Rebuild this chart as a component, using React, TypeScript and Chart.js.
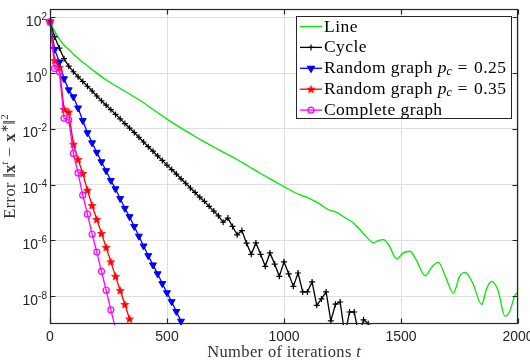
import React, { useEffect, useRef } from 'react';
import { Chart, registerables } from 'chart.js';

Chart.register(...registerables);

// Iterations between stored samples of the graph-based runs
const SAMPLE_STEP = 20;

const xTickValues = [0, 500, 1000, 1500, 2000];
const yTickExponents = [2, 0, -2, -4, -6, -8];

// Line topology: iteration and log10 of the error
const lineIters = [0, 20, 40, 60, 80, 100, 150, 200, 250, 300, 350, 400, 450, 500, 550, 600, 650, 700, 750, 800, 850, 900, 950, 1000, 1050, 1080, 1110, 1150, 1190, 1220, 1260, 1300, 1325, 1355, 1382, 1405, 1425, 1450, 1481, 1510, 1538, 1565, 1603, 1635, 1660, 1690, 1724, 1750, 1774, 1805, 1845, 1865, 1887, 1915, 1944, 1963, 1987, 2000];
const lineLogErr = [1.84, 1.5, 1.22, 1.0, 0.85, 0.68, 0.33, 0.0, -0.3, -0.55, -0.8, -1.06, -1.36, -1.65, -1.92, -2.17, -2.42, -2.65, -2.88, -3.1, -3.35, -3.6, -3.84, -4.07, -4.3, -4.4, -4.5, -4.68, -4.9, -4.98, -5.18, -5.4, -5.62, -5.9, -6.09, -6.0, -5.97, -6.2, -6.67, -6.45, -6.39, -6.7, -7.27, -6.92, -6.79, -7.3, -7.89, -7.3, -7.15, -7.5, -8.3, -7.75, -7.47, -7.8, -8.72, -8.58, -7.98, -7.86];

// Remaining topologies: log10 of the error every SAMPLE_STEP iterations
const cycleLogErr = [
  1.84, 1.3, 0.9, 0.52, 0.25, 0.05, -0.13, -0.3, -0.47, -0.64,
  -0.82, -0.99, -1.15, -1.31, -1.48, -1.64, -1.81, -1.97, -2.13, -2.3,
  -2.47, -2.64, -2.8, -2.97, -3.13, -3.3, -3.46, -3.62, -3.79, -3.95,
  -4.12, -4.28, -4.45, -4.6, -4.78, -4.95, -5.12, -5.35, -5.2, -5.5,
  -5.8, -5.65, -6.1, -6.5, -6.09, -6.5, -6.93, -6.45, -6.85, -7.29,
  -6.77, -7.2, -7.65, -7.17, -7.85, -7.85, -7.49, -8.33, -8.1, -7.85,
  -8.89, -8.29, -8.21, -9.4, -8.57, -8.57, -9.4, -8.85, -8.99, -9.4,
];
const random25LogErr = [1.84, 0.85, 0.4, -0.2, -0.6, -0.85, -1.25, -1.7, -2.14, -2.5, -2.84, -3.18, -3.5, -3.85, -4.15, -4.5, -4.85, -5.15, -5.5, -5.85, -6.2, -6.55, -6.88, -7.2, -7.55, -7.88, -8.2, -8.55, -8.9];
const random35LogErr = [1.84, 0.45, 0.2, -1.3, -1.4, -2.55, -3.1, -3.6, -4.2, -4.75, -5.25, -5.75, -6.25, -6.77, -7.29, -7.8, -8.3, -8.82];
const completeLogErr = [1.84, 0.17, 0.05, -1.62, -1.68, -2.88, -3.58, -4.38, -5.06, -5.78, -6.42, -7.11, -7.79, -8.49, -9.17];

const SERIF = '"Liberation Serif", "Times New Roman", serif';
const SANS = '"Liberation Sans", Arial, Helvetica, sans-serif';
const AXIS = '#262626';
const GRID = '#dfdfdf';

const GREEN = '#00e800';
const BLACK = '#000000';
const BLUE = '#0000ff';
const RED = '#ff0000';
const MAGENTA = '#ff00ff';

type Run = { text: string; font: string; dy?: number; ls?: number };

function runsWidth(ctx: CanvasRenderingContext2D, runs: Run[]) {
  let w = 0;
  for (const r of runs) {
    ctx.font = r.font;
    (ctx as any).letterSpacing = `${r.ls || 0}px`;
    w += ctx.measureText(r.text).width;
  }
  (ctx as any).letterSpacing = '0px';
  return w;
}

function drawRuns(ctx: CanvasRenderingContext2D, runs: Run[], x: number, y: number) {
  let cx = x;
  for (const r of runs) {
    ctx.font = r.font;
    (ctx as any).letterSpacing = `${r.ls || 0}px`;
    ctx.fillText(r.text, cx, y + (r.dy || 0));
    cx += ctx.measureText(r.text).width;
  }
  (ctx as any).letterSpacing = '0px';
}

function makeStar(color: string, r: number) {
  const size = Math.ceil(r * 2 + 2);
  const c = document.createElement('canvas');
  c.width = size;
  c.height = size;
  const ctx = c.getContext('2d')!;
  ctx.translate(size / 2, size / 2 + 0.3);
  ctx.beginPath();
  for (let i = 0; i < 10; i++) {
    const rad = i % 2 === 0 ? r : r * 0.42;
    const a = -Math.PI / 2 + (i * Math.PI) / 5;
    ctx.lineTo(rad * Math.cos(a), rad * Math.sin(a));
  }
  ctx.closePath();
  ctx.fillStyle = color;
  ctx.fill();
  ctx.strokeStyle = color;
  ctx.lineWidth = 0.8;
  ctx.stroke();
  return c;
}

function drawMarker(ctx: CanvasRenderingContext2D, kind: string, x: number, y: number, color: string, star?: HTMLCanvasElement) {
  ctx.save();
  ctx.strokeStyle = color;
  ctx.fillStyle = color;
  ctx.lineWidth = 1.2;
  ctx.beginPath();
  if (kind === 'cross') {
    ctx.moveTo(x - 3, y);
    ctx.lineTo(x + 3, y);
    ctx.moveTo(x, y - 3);
    ctx.lineTo(x, y + 3);
    ctx.stroke();
  } else if (kind === 'triDown') {
    const r = 4;
    for (let k = 0; k < 3; k++) {
      const a = Math.PI + (k * 2 * Math.PI) / 3;
      const px = x + Math.sin(a) * r;
      const py = y - Math.cos(a) * r;
      if (k === 0) ctx.moveTo(px, py);
      else ctx.lineTo(px, py);
    }
    ctx.closePath();
    ctx.fill();
    ctx.stroke();
  } else if (kind === 'star' && star) {
    ctx.drawImage(star, x - star.width / 2, y - star.height / 2);
  } else if (kind === 'circle') {
    ctx.arc(x, y, 3, 0, Math.PI * 2);
    ctx.stroke();
  }
  ctx.restore();
}

function expLabel(e: number) {
  return e < 0 ? '-' + String(-e) : String(e);
}

export default function App() {
  const canvasRef = useRef<HTMLCanvasElement | null>(null);

  useEffect(() => {
    const canvas = canvasRef.current;
    if (!canvas) return;

    const star = makeStar(RED, 4.1);
    const sampled = (logs: number[]) => logs.map((e, i) => ({ x: i * SAMPLE_STEP, y: Math.pow(10, e) }));
    const lineData = lineLogErr.map((e, i) => ({ x: lineIters[i], y: Math.pow(10, e) }));

    const LF = `17.5px ${SERIF}`;
    const LS = 0.45;
    const graphRuns = (pc: string): Run[] => [
      { text: 'Random graph ', font: LF, ls: LS },
      { text: 'p', font: `italic 17.5px ${SERIF}` },
      { text: 'c', font: `italic 12px ${SERIF}`, dy: 3.5 },
      { text: ' = ', font: LF, ls: 1.2 },
      { text: pc, font: LF, ls: LS },
    ];
    const legendItems = [
      { color: GREEN, marker: 'none', runs: [{ text: 'Line', font: LF, ls: LS }] as Run[] },
      { color: BLACK, marker: 'cross', runs: [{ text: 'Cycle', font: LF, ls: LS }] as Run[] },
      { color: BLUE, marker: 'triDown', runs: graphRuns('0.25') },
      { color: RED, marker: 'star', runs: graphRuns('0.35') },
      { color: MAGENTA, marker: 'circle', runs: [{ text: 'Complete graph', font: LF, ls: LS }] as Run[] },
    ];

    const axesPlugin = {
      id: 'matlabAxes',
      afterDatasetsDraw(chart: any) {
        const { ctx, chartArea: a, scales } = chart;
        const xs = scales.x;
        const ys = scales.y;
        ctx.save();
        // box and inward ticks
        ctx.strokeStyle = AXIS;
        ctx.lineWidth = 1.2;
        const L = Math.round(a.left) + 0.5;
        const R = Math.round(a.right) - 0.5;
        const T = Math.round(a.top) + 0.5;
        const B = Math.round(a.bottom) - 0.5;
        ctx.strokeRect(L, T, R - L, B - T);
        ctx.beginPath();
        for (const v of xTickValues) {
          const px = Math.round(xs.getPixelForValue(v)) + 0.5;
          ctx.moveTo(px, B);
          ctx.lineTo(px, B - 5);
          ctx.moveTo(px, T);
          ctx.lineTo(px, T + 5);
        }
        for (const e of yTickExponents) {
          const py = Math.round(ys.getPixelForValue(Math.pow(10, e))) + 0.5;
          ctx.moveTo(L, py);
          ctx.lineTo(L + 5, py);
          ctx.moveTo(R, py);
          ctx.lineTo(R - 5, py);
        }
        ctx.stroke();

        // tick labels
        ctx.fillStyle = AXIS;
        ctx.textBaseline = 'alphabetic';
        ctx.textAlign = 'left';
        for (const v of xTickValues) {
          const px = xs.getPixelForValue(v);
          ctx.font = `14px ${SANS}`;
          const label = String(v);
          const w = ctx.measureText(label).width;
          ctx.fillText(label, px - w / 2, a.bottom + 17);
        }
        for (const e of yTickExponents) {
          const py = ys.getPixelForValue(Math.pow(10, e));
          const runs: Run[] = [
            { text: '10', font: `14px ${SANS}` },
            { text: expLabel(e), font: `10px ${SANS}`, dy: -6 },
          ];
          const w = runsWidth(ctx, runs);
          drawRuns(ctx, runs, a.left - 3 - w, py + 8.5);
        }

        // axis titles
        ctx.fillStyle = '#333333';
        const xTitle: Run[] = [
          { text: 'Number of iterations ', font: `16.5px ${SERIF}`, ls: 0.35 },
          { text: 't', font: `italic 16.5px ${SERIF}` },
        ];
        const xw = runsWidth(ctx, xTitle);
        drawRuns(ctx, xTitle, (a.left + a.right) / 2 - xw / 2, 357);

        const yTitle: Run[] = [
          { text: 'Error ', font: `16.5px ${SERIF}`, ls: 0.35 },
          { text: '‖', font: `16.5px ${SERIF}` },
          { text: 'x', font: `bold 16.5px ${SERIF}` },
          { text: 't', font: `italic 11px ${SERIF}`, dy: -7 },
          { text: ' − ', font: `16.5px ${SERIF}`, ls: 0.8 },
          { text: 'x', font: `bold 16.5px ${SERIF}` },
          { text: '∗', font: `11px ${SERIF}`, dy: -7 },
          { text: '‖', font: `16.5px ${SERIF}` },
          { text: '2', font: `11px ${SERIF}`, dy: -7 },
        ];
        const yw = runsWidth(ctx, yTitle);
        ctx.translate(15, (a.top + a.bottom) / 2);
        ctx.rotate(-Math.PI / 2);
        drawRuns(ctx, yTitle, -yw / 2, 0);
        ctx.restore();
      },
      afterDraw(chart: any) {
        const { ctx } = chart;
        ctx.save();
        const bx = 296;
        const by = 16;
        const bw = 215;
        const bh = 102;
        ctx.fillStyle = '#ffffff';
        ctx.fillRect(bx, by, bw, bh);
        ctx.strokeStyle = AXIS;
        ctx.lineWidth = 1;
        ctx.strokeRect(bx + 0.5, by + 0.5, bw, bh);
        legendItems.forEach((item, i) => {
          const ry = 26.5 + i * 20.9;
          ctx.strokeStyle = item.color;
          ctx.lineWidth = 1.3;
          ctx.beginPath();
          ctx.moveTo(300, ry);
          ctx.lineTo(322, ry);
          ctx.stroke();
          if (item.marker !== 'none') drawMarker(ctx, item.marker, 311, ry, item.color, star);
          ctx.fillStyle = '#000000';
          ctx.textBaseline = 'middle';
          drawRuns(ctx, item.runs, 324, ry + 0.5);
        });
        ctx.restore();
      },
    };

    const clip = { left: 6, top: 6, right: 0, bottom: 1 };

    const chart = new Chart(canvas, {
      type: 'line',
      data: {
        datasets: [
          {
            label: 'Line',
            data: lineData,
            borderColor: GREEN,
            borderWidth: 1.3,
            pointRadius: 0,
            cubicInterpolationMode: 'monotone',
            order: 5,
            clip,
          },
          {
            label: 'Cycle',
            data: sampled(cycleLogErr),
            borderColor: BLACK,
            borderWidth: 1.3,
            pointStyle: 'cross',
            pointRadius: 3,
            pointBorderWidth: 1.2,
            pointBorderColor: BLACK,
            order: 4,
            clip,
          },
          {
            label: 'Random graph pc = 0.25',
            data: sampled(random25LogErr),
            borderColor: BLUE,
            borderWidth: 1.3,
            pointStyle: 'triangle',
            pointRotation: 180,
            pointRadius: 4,
            pointBorderWidth: 1,
            pointBackgroundColor: BLUE,
            pointBorderColor: BLUE,
            order: 3,
            clip,
          },
          {
            label: 'Random graph pc = 0.35',
            data: sampled(random35LogErr),
            borderColor: RED,
            borderWidth: 1.3,
            pointStyle: star,
            pointRadius: 4,
            order: 2,
            clip,
          },
          {
            label: 'Complete graph',
            data: sampled(completeLogErr),
            borderColor: MAGENTA,
            borderWidth: 1.3,
            pointStyle: 'circle',
            pointRadius: 3,
            pointBorderWidth: 1.2,
            pointBorderColor: MAGENTA,
            pointBackgroundColor: 'rgba(0,0,0,0)',
            order: 1,
            clip,
          },
        ] as any,
      },
      options: {
        animation: false,
        responsive: false,
        events: [],
        layout: { padding: { top: 9, right: 12, left: 0, bottom: 0 } },
        plugins: { legend: { display: false }, tooltip: { enabled: false } },
        scales: {
          x: {
            type: 'linear',
            min: 0,
            max: 2000,
            afterBuildTicks: (s: any) => {
              s.ticks = xTickValues.map((v) => ({ value: v }));
            },
            afterFit: (s: any) => {
              s.height = 38;
              s.paddingLeft = 0;
              s.paddingRight = 0;
            },
            ticks: { display: false },
            grid: { color: GRID, lineWidth: 1, drawTicks: false },
            border: { display: false },
          },
          y: {
            type: 'logarithmic',
            min: 1e-9,
            max: 200,
            afterBuildTicks: (s: any) => {
              s.ticks = yTickExponents.map((e) => ({ value: Math.pow(10, e) }));
            },
            afterFit: (s: any) => {
              s.width = 50;
              s.paddingTop = 0;
              s.paddingBottom = 0;
            },
            ticks: { display: false },
            grid: { color: GRID, lineWidth: 1, drawTicks: false },
            border: { display: false },
          },
        },
      } as any,
      plugins: [axesPlugin],
    });

    return () => chart.destroy();
  }, []);

  return (
    <div style={{ position: 'fixed', left: 0, top: 0, width: 530, height: 362, background: '#ffffff' }}>
      <canvas ref={canvasRef} width={530} height={362} style={{ display: 'block' }} />
    </div>
  );
}
